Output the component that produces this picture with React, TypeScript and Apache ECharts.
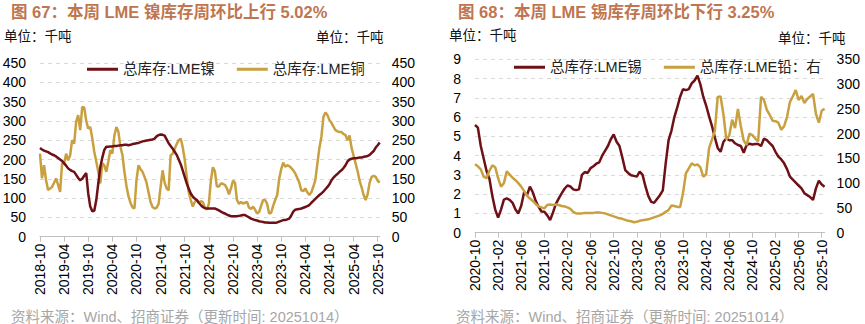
import React, { useEffect, useRef } from "react";
import * as echarts from "echarts";

const FONT = "Arial, 'Liberation Sans', 'Noto Sans CJK SC', sans-serif";
const RED = "#6E1116";
const GOLD = "#C9A040";

// Semi-monthly sample dates (1st and 16th of each month)
function halfMonths(startY: number, startM: number, count: number): string[] {
  const out: string[] = [];
  for (let i = 0; i < count; i++) {
    const mIdx = startM - 1 + Math.floor(i / 2);
    const y = startY + Math.floor(mIdx / 12);
    const m = (mIdx % 12) + 1;
    out.push(`${y}-${m < 10 ? "0" + m : m}-${i % 2 === 0 ? "01" : "16"}`);
  }
  return out;
}

// Chart 67: LME nickel & copper (thousand tonnes), 2018-10 .. 2025-10
const leftDates = halfMonths(2018, 10, 170);
const nickel = [
  230, 226, 223, 221, 219, 216, 213, 211, 208, 204, 200, 196, 190, 184, 177, 173, 170, 168, 160, 152,
  146, 150, 158, 165, 112, 78, 66, 67, 95, 138, 180, 205, 225, 233, 233, 234, 234, 235, 235, 236,
  237, 237, 238, 238, 237, 238, 240, 241, 242, 243, 245, 247, 248, 249, 250, 251, 252, 254, 260, 263,
  265, 264, 262, 252, 242, 235, 228, 220, 212, 200, 188, 172, 155, 138, 124, 112, 104, 99, 95, 88,
  82, 77, 74, 73, 73,
  73, 73, 73, 71, 68, 65, 62, 60, 57, 55, 53, 53, 53, 53, 54, 55, 56, 56, 53, 50,
  47, 45, 43, 42, 40, 39, 38, 37, 37, 36, 36, 36, 36, 37, 39, 41, 43, 43, 45, 47,
  55, 65, 70, 71, 72, 73, 75, 77, 79, 82, 88, 93, 98, 103, 108, 112, 117, 123, 129, 136,
  146, 153, 158, 163, 168, 172, 178, 185, 195, 200, 202, 203, 203, 204, 205, 205, 207, 208, 209, 212,
  217, 222, 231, 237, 244,
];
const copper = [
  215, 151, 185, 147, 121, 125, 129, 140, 151, 134, 116, 190, 190, 215, 198, 211, 250, 241, 298, 315,
  276, 336, 335, 300, 280, 284, 255, 220, 195, 168, 138, 190, 185, 168, 195, 224, 215, 262, 284, 272,
  233, 212, 168, 132, 105, 88, 76, 73, 147, 185, 175, 168, 155, 140, 115, 90, 77, 73, 75, 85,
  129, 172, 140, 125, 120, 211, 215, 228, 240, 250, 254, 232, 200, 155, 115, 95, 78, 90, 95, 88,
  92, 90, 76, 70, 85,
  145, 180, 170, 130, 130, 138, 137, 134, 125, 110, 125, 145, 140, 95, 85, 90, 86, 88, 90, 75,
  72, 78, 70, 60, 64, 80, 95, 95, 85, 60, 62, 80, 95, 108, 150, 175, 192, 181, 185, 183,
  178, 172, 164, 152, 140, 120, 118, 125, 115, 108, 115, 130, 147, 190, 230, 259, 310, 322, 315, 302,
  295, 285, 276, 273, 271, 271, 266, 263, 250, 262, 230, 210, 190, 170, 145, 128, 108, 95, 110, 140,
  155, 158, 155, 145, 140,
];

// Chart 68: LME tin (left axis) & lead (right axis), 2020-10 .. 2025-10
const rightDates = halfMonths(2020, 10, 122);
const tin = [
  5.59, 5.45, 4.5, 3.85, 3.2, 2.8, 1.9, 1.2, 0.78, 1.2, 1.72, 1.78, 1.7, 1.55, 1.2, 1.0, 1.4, 2.1, 1.95, 2.39,
  2.1, 1.65, 1.35, 1.1, 1.09, 0.9, 0.66, 1.05, 1.5, 1.78, 2.04, 2.28, 2.45, 2.4, 2.25, 2.21, 2.25, 3.0, 3.15, 3.1,
  3.35, 3.45, 3.58, 3.65, 4.0, 4.25, 4.5, 4.85, 5.1, 4.72, 4.5, 3.9, 3.25, 3.1, 2.98, 2.95, 2.91, 3.17, 3.0, 2.4,
  1.9, 1.6, 1.55, 1.75, 1.95, 2.2, 3.6, 4.8, 5.3, 6.0, 6.5, 7.06, 7.45, 7.4, 7.45, 7.75, 7.9, 8.15, 7.7, 7.06,
  6.6, 6.05, 5.55, 4.95, 4.4, 4.2, 4.72, 4.9, 4.8, 4.8, 4.64, 4.55, 4.5, 4.15, 4.55, 4.62, 4.58, 4.6, 4.6, 4.5,
  4.88, 4.8, 4.65, 4.5, 4.2, 3.95, 3.8, 3.6, 3.3, 2.91, 2.75, 2.6, 2.45, 2.3, 2.05, 1.95, 1.85, 1.7, 2.3, 2.7,
  2.5, 2.39,
];
const lead = [
  138, 134, 128, 113, 110, 125, 136, 132, 110, 93, 100, 124, 117, 111, 106, 100, 93, 84, 75, 69,
  64, 58, 53, 51, 49, 56, 57, 56, 57, 56, 54, 53, 51, 48, 42, 39, 39, 39, 40, 40,
  40, 40, 41, 41, 40, 39, 37, 35, 33, 31, 29, 28, 26, 24, 23, 21, 22, 24, 25, 26,
  27, 29, 31, 33, 35, 38, 42, 46, 55, 54, 52, 52, 80, 120, 130, 140, 136, 138, 132, 113,
  118, 170, 188, 205, 274, 275, 238, 188, 196, 228, 211, 250, 215, 186, 177, 200, 197, 190, 184, 274,
  268, 248, 238, 226, 225, 222, 208, 215, 234, 264, 275, 288, 268, 276, 262, 270, 275, 280, 240, 222,
  246, 250,
];

const leftTitle = "图 67：本周 LME 镍库存周环比上行 5.02%";
const rightTitle = "图 68：本周 LME 锡库存周环比下行 3.25%";
const unitText = "单位：千吨";
const sourceText = "资料来源：Wind、招商证券（更新时间: 20251014）";
const leftNames = ["总库存:LME镍", "总库存:LME铜"];
const rightNames = ["总库存:LME锡", "总库存:LME铅：右"];

function xAxisOf(gridIndex: number, data: string[], every: number) {
  return {
    type: "category",
    gridIndex,
    data,
    boundaryGap: false,
    axisLine: { lineStyle: { color: "#BFBFBF", width: 1 } },
    axisTick: { interval: every, length: 5, lineStyle: { color: "#BFBFBF" } },
    axisLabel: {
      interval: every,
      rotate: 90,
      fontSize: 14,
      color: "#000",
      fontFamily: FONT,
      margin: 7,
      formatter: (v: string) => v.slice(0, 7),
    },
    splitLine: { show: false },
  };
}

function yAxisOf(gridIndex: number, pos: string, max: number, interval: number, grid: boolean) {
  return {
    type: "value",
    gridIndex,
    position: pos,
    min: 0,
    max,
    interval,
    axisLine: { show: false },
    axisTick: { show: false },
    axisLabel: { fontSize: 14, color: "#000", fontFamily: FONT, margin: pos === "left" ? 14 : 12 },
    splitLine: grid
      ? { show: true, lineStyle: { color: "#D9D9D9", type: [4, 4], width: 1 } }
      : { show: false },
  };
}

function lineOf(name: string, data: number[], color: string, xi: number, yi: number, z: number) {
  return {
    type: "line",
    name,
    data,
    xAxisIndex: xi,
    yAxisIndex: yi,
    symbol: "none",
    z,
    lineStyle: { color, width: 2.5 },
    itemStyle: { color },
  };
}

function text(x: number, y: number, s: string, size: number, fill: string, weight = "normal") {
  return {
    type: "text",
    x,
    y,
    style: { text: s, fill, font: `${weight} ${size}px ${FONT}`, textVerticalAlign: "middle" },
  };
}

export default function App() {
  const ref = useRef<HTMLDivElement>(null);
  useEffect(() => {
    if (!ref.current) return;
    const chart = echarts.init(ref.current, undefined, { renderer: "svg" });
    const legendCommon = {
      icon: "rect",
      itemWidth: 31,
      itemHeight: 3,
      itemGap: 22,
      textStyle: { fontSize: 14.5, color: "#222", fontFamily: FONT },
    };
    chart.setOption({
      animation: false,
      textStyle: { fontFamily: FONT },
      graphic: [
        text(11, 12, leftTitle, 16.5, "#C0754F", "bold"),
        text(458, 12, rightTitle, 16.5, "#C0754F", "bold"),
        text(4, 36, unitText, 13.5, "#111"),
        text(316, 37, unitText, 13.5, "#111"),
        text(449, 35, unitText, 13.5, "#111"),
        text(778, 38, unitText, 13.5, "#111"),
        text(11, 317, sourceText, 14.5, "#A6A6A6"),
        text(456, 317, sourceText, 14.5, "#A6A6A6"),
      ],
      legend: [
        { ...legendCommon, data: leftNames, left: 82, top: 57 },
        { ...legendCommon, data: rightNames, left: 509, top: 55 },
      ],
      grid: [
        { left: 40, top: 63, width: 339.7, height: 173.7, outerBoundsMode: "none" },
        { left: 475, top: 59.3, width: 349.6, height: 173.4, outerBoundsMode: "none" },
      ],
      xAxis: [xAxisOf(0, leftDates, 11), xAxisOf(1, rightDates, 7)],
      yAxis: [
        yAxisOf(0, "left", 450, 50, true),
        yAxisOf(0, "right", 450, 50, false),
        yAxisOf(1, "left", 9, 1, true),
        yAxisOf(1, "right", 350, 50, false),
      ],
      series: [
        lineOf(leftNames[1], copper, GOLD, 0, 1, 2),
        lineOf(leftNames[0], nickel, RED, 0, 0, 3),
        lineOf(rightNames[0], tin, RED, 1, 2, 2),
        lineOf(rightNames[1], lead, GOLD, 1, 3, 3),
      ],
    });
    return () => chart.dispose();
  }, []);
  return (
    <div
      ref={ref}
      style={{ position: "fixed", left: 0, top: 0, width: 865, height: 324, background: "#fff" }}
    />
  );
}
